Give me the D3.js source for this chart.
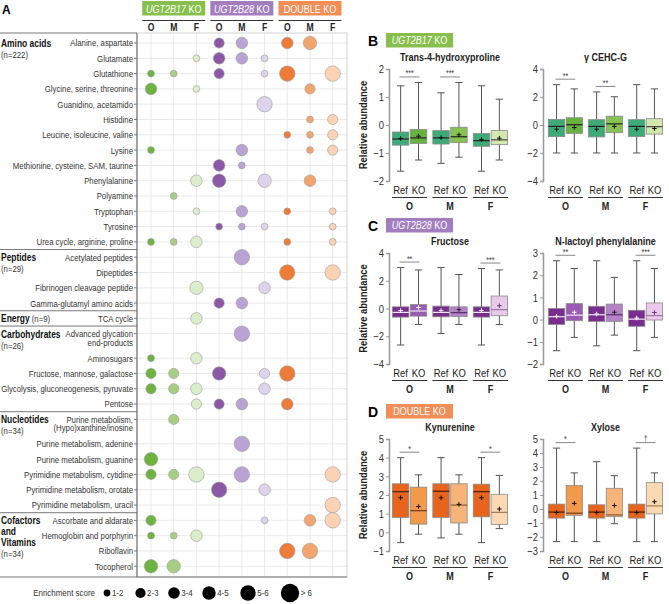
<!DOCTYPE html>
<html>
<head>
<meta charset="utf-8">
<script src="https://cdn.jsdelivr.net/npm/d3@7"></script>
<style>
  body { margin: 0; background: #fff; }
  svg { display: block; font-family: "Liberation Sans", Arial, sans-serif; }
</style>
</head>
<body>
<svg id="chart"></svg>
<script>
// ---------------- data: panel A ----------------
const pathways = [
  "Alanine, aspartate", "Glutamate", "Glutathione", "Glycine, serine, threonine",
  "Guanidino, acetamido", "Histidine", "Leucine, isoleucine, valine", "Lysine",
  "Methionine, cysteine, SAM, taurine", "Phenylalanine", "Polyamine", "Tryptophan",
  "Tyrosine", "Urea cycle, arginine, proline",
  "Acetylated peptides", "Dipeptides", "Fibrinogen cleavage peptide", "Gamma-glutamyl amino acids",
  "TCA cycle",
  "Advanced glycation|end-products", "Aminosugars", "Fructose, mannose, galactose",
  "Glycolysis, gluconeogenesis, pyruvate", "Pentose",
  "Purine metabolism,|(Hypo)xanthine/inosine", "Purine metabolism, adenine", "Purine metabolism, guanine",
  "Pyrimidine metabolism, cytidine", "Pyrimidine metabolism, orotate", "Pyrimidine metabolism, uracil",
  "Ascorbate and aldarate", "Hemoglobin and porphyrin", "Riboflavin", "Tocopherol"
];
const classNames = [["Amino acids"], ["Peptides"], ["Energy"], ["Carbohydrates"], ["Nucleotides"], ["Cofactors", "and", "Vitamins"]];
const classCounts = ["(n=222)", "(n=29)", "(n=9)", "(n=26)", "(n=34)", "(n=34)"];
const classStart = [0, 14, 18, 19, 24, 30];

const conditions = ["UGT2B17 KO", "UGT2B28 KO", "DOUBLE KO"];
const tissues = ["O", "M", "F"];

// enrichment score class per pathway (0 = not enriched, 1 = 1-2 ... 6 = >6)
// columns: B17 O,M,F | B28 O,M,F | DOUBLE O,M,F
const enrichLevel = [
  [0,0,0, 2,3,0, 3,4,0],
  [0,0,1, 3,3,1, 0,0,0],
  [1,1,0, 2,0,1, 5,0,5],
  [3,0,1, 0,0,0, 0,2,0],
  [0,0,0, 0,0,5, 0,0,0],
  [0,0,0, 0,0,0, 0,1,2],
  [0,0,0, 0,0,0, 1,1,2],
  [1,0,0, 0,3,0, 0,1,2],
  [0,0,0, 3,1,0, 0,0,0],
  [0,0,3, 4,0,4, 0,3,0],
  [0,1,0, 0,0,0, 0,0,0],
  [0,0,1, 0,3,0, 1,0,1],
  [0,0,0, 1,1,1, 0,0,1],
  [1,1,3, 0,0,0, 1,0,1],
  [0,0,0, 0,5,0, 0,0,0],
  [0,0,0, 0,0,0, 5,0,5],
  [0,0,4, 0,0,3, 0,0,0],
  [0,0,0, 2,3,0, 0,0,0],
  [0,0,3, 0,0,0, 0,0,0],
  [0,0,0, 0,5,0, 0,0,0],
  [1,0,3, 0,0,0, 0,0,0],
  [2,2,0, 4,0,2, 5,0,0],
  [2,2,3, 0,0,3, 0,0,0],
  [0,0,2, 2,3,0, 3,0,0],
  [0,2,0, 0,0,0, 0,0,0],
  [0,0,0, 0,5,0, 0,0,0],
  [4,0,0, 0,0,0, 0,0,0],
  [2,2,5, 0,5,0, 0,0,5],
  [0,0,0, 5,0,3, 0,0,0],
  [0,0,0, 0,0,0, 0,0,5],
  [2,0,0, 0,0,1, 0,3,5],
  [1,1,3, 0,0,0, 0,0,0],
  [0,0,0, 0,0,0, 5,5,0],
  [4,4,0, 0,0,0, 0,0,0]
];
const legendLabels = ["1-2", "2-3", "3-4", "4-5", "5-6", "> 6"];

// ---------------- data: box plots ----------------
// each box: [whisker low, q1, median, q3, whisker high, mean]; order O Ref, O KO, M Ref, M KO, F Ref, F KO
const hydroxyproline = [
  [-1.65,-0.72,-0.50,-0.25,1.40,-0.48], [-1.25,-0.66,-0.46,-0.16,1.52,-0.40],
  [-1.37,-0.68,-0.46,-0.20,1.15,-0.45], [-1.15,-0.63,-0.42,-0.08,1.52,-0.35],
  [-1.65,-0.76,-0.56,-0.30,1.40,-0.52], [-1.25,-0.70,-0.53,-0.20,0.92,-0.47]
];
const cehcG = [
  [-2.0,-0.83,-0.10,0.40,2.88,-0.30], [-2.0,-0.60,0.02,0.52,2.58,-0.18],
  [-2.0,-0.85,-0.10,0.38,2.36,-0.30], [-2.0,-0.55,0.08,0.63,2.02,-0.10],
  [-2.0,-0.82,-0.10,0.38,2.88,-0.30], [-2.0,-0.65,-0.12,0.45,2.58,-0.25]
];
const fructose = [
  [-2.63,-0.62,-0.28,0.12,2.95,-0.15], [-1.15,-0.55,-0.18,0.28,2.78,0.07],
  [-1.80,-0.60,-0.28,0.17,2.95,-0.15], [-1.15,-0.58,-0.30,0.12,2.45,-0.08],
  [-2.63,-0.62,-0.28,0.12,2.88,-0.15], [-1.15,-0.52,-0.08,0.90,2.78,0.20]
];
const lactoylPhe = [
  [-1.40,-0.22,0.13,0.50,2.65,0.15], [-0.80,-0.05,0.20,0.72,2.30,0.33],
  [-1.18,-0.08,0.22,0.60,2.65,0.25], [-0.70,-0.08,0.22,0.70,1.90,0.33],
  [-1.40,-0.30,0.02,0.42,2.65,0.07], [-0.80,-0.02,0.18,0.75,2.30,0.32]
];
const kynurenine = [
  [-0.55,0.80,2.18,2.60,4.00,1.85], [-0.10,0.44,1.16,2.42,3.08,1.38],
  [-0.30,0.80,2.20,2.60,4.00,1.85], [-0.10,0.50,1.46,2.60,3.08,1.50],
  [-0.55,0.83,2.18,2.58,4.00,1.85], [0.20,0.42,1.07,2.04,3.05,1.25]
];
const xylose = [
  [-2.33,-0.65,-0.22,0.35,4.35,-0.25], [-2.33,-0.45,-0.30,1.68,2.58,0.40],
  [-2.33,-0.65,-0.22,0.30,3.38,-0.25], [-1.05,-0.55,-0.42,1.48,2.38,0.25],
  [-2.33,-0.65,-0.22,0.35,4.35,-0.25], [-2.33,-0.35,0.22,1.88,2.58,0.52]
];
const sigHydroxyproline = ["***", "***", ""];
const sigCehcG = ["**", "**", ""];
const sigFructose = ["**", "", "***"];
const sigLactoylPhe = ["**", "", "***"];
const sigKynurenine = ["*", "", "*"];
const sigXylose = ["*", "", "\u2020"];

// ---------------- setup ----------------
const W = 669, H = 604;
const svg = d3.select("#chart").attr("width", W).attr("height", H);
const K = 0.82; // horizontal squeeze to mimic a narrow typeface

const headColors = ["#86bf4b", "#a27dbf", "#f28d55"];
const bubbleFill = [
  "#6cb43f", "#a7cf84", "#dcedca",
  "#8b58a8", "#b9a2d4", "#ddd3ec",
  "#ee7b38", "#f3a56f", "#fbd3b4"
];

// ---------------- panel A ----------------
const xCol = d3.scalePoint().domain(d3.range(9)).range([151, 332.7]);
const slotOf = i => i + (i > 19 ? 0.6 : 0) + (i > 24 ? 0.6 : 0);
const yRow = d3.scaleLinear().domain([0, 1]).range([43, 58.3]);
const rowY = i => yRow(slotOf(i));
const radii = [0, 3.4, 5.1, 5.8, 6.7, 7.7, 9.2];

const pA = svg.append("g");
const plotL = 137, plotR = 347, plotT = 33, plotB = 577;

pA.append("text").attr("class", "letter").attr("x", 2).attr("y", 14).text("A")
  .style("font-weight", "bold").style("font-size", "12px");

// header boxes
conditions.forEach((c, ci) => {
  const cx = xCol(ci * 3 + 1);
  pA.append("rect").attr("x", cx - 31.5).attr("y", 1).attr("width", 63).attr("height", 14.5).attr("fill", headColors[ci]);
  const t = pA.append("text").attr("x", cx).attr("y", 12.5).attr("text-anchor", "middle")
    .attr("fill", "#fff").style("font-size", "11px");
  if (ci < 2) {
    t.append("tspan").style("font-style", "italic").text(c.split(" ")[0]);
    t.append("tspan").text(" KO");
  } else {
    t.text(c);
  }
  pA.append("line").attr("x1", cx - 31.5).attr("x2", cx + 31.5).attr("y1", 20.5).attr("y2", 20.5)
    .attr("stroke", "#333").attr("stroke-width", 1);
  tissues.forEach((tt, ti) => {
    pA.append("text").attr("x", xCol(ci * 3 + ti)).attr("y", 30.5).attr("text-anchor", "middle")
      .style("font-weight", "bold").style("font-size", "10.5px").attr("fill", "#222").text(tt);
  });
});

// grid
pA.selectAll(".vg").data(d3.range(9)).enter().append("line")
  .attr("x1", d => xCol(d)).attr("x2", d => xCol(d)).attr("y1", plotT).attr("y2", plotB)
  .attr("stroke", "#e4e4e4").attr("stroke-width", 0.8);
pA.selectAll(".hg").data(pathways).enter().append("line")
  .attr("x1", plotL).attr("x2", plotR).attr("y1", (d, i) => rowY(i)).attr("y2", (d, i) => rowY(i))
  .attr("stroke", "#e4e4e4").attr("stroke-width", 0.8);
pA.append("rect").attr("x", plotL).attr("y", plotT).attr("width", plotR - plotL).attr("height", plotB - plotT)
  .attr("fill", "none").attr("stroke", "#c8c8c8").attr("stroke-width", 0.8);

// row labels + ticks
pathways.forEach((p, i) => {
  const y = rowY(i);
  pA.append("line").attr("x1", plotL - 3).attr("x2", plotL).attr("y1", y).attr("y2", y).attr("stroke", "#777");
  p.split("|").forEach((line, li) => {
    pA.append("text").attr("x", plotL - 4).attr("y", y + li * 8.6 + 3.4)
      .attr("text-anchor", "end").style("font-size", "9.5px").attr("fill", "#333").text(line);
  });
});

// class separators
pA.append("line").attr("x1", 0).attr("x2", plotL).attr("y1", plotT).attr("y2", plotT).attr("stroke", "#777");
pA.append("line").attr("x1", 0).attr("x2", plotR).attr("y1", plotB).attr("y2", plotB).attr("stroke", "#777");
pA.append("line").attr("x1", plotL).attr("x2", plotL).attr("y1", plotT).attr("y2", plotB).attr("stroke", "#777").attr("stroke-width", 1.2);
classStart.slice(1).forEach(s => {
  const y = (rowY(s - 1) + rowY(s)) / 2;
  pA.append("line").attr("x1", 0).attr("x2", plotL).attr("y1", y).attr("y2", y).attr("stroke", "#777");
});

// class labels
classNames.forEach((lines, ci) => {
  const y0 = rowY(classStart[ci]) + 3.8;
  if (lines[0] === "Energy") {
    const t = pA.append("text").attr("x", 1).attr("y", y0).attr("fill", "#111");
    t.append("tspan").style("font-weight", "bold").style("font-size", "10.3px").text("Energy");
    t.append("tspan").style("font-size", "9.5px").attr("fill", "#333").text(" " + classCounts[ci]);
    return;
  }
  lines.forEach((ln, li) => {
    pA.append("text").attr("x", 1).attr("y", y0 + li * 10.8)
      .style("font-weight", "bold").style("font-size", "10.3px").attr("fill", "#111").text(ln);
  });
  pA.append("text").attr("x", 1).attr("y", y0 + lines.length * 10.8 + 0.5)
    .style("font-size", "9.5px").attr("fill", "#333").text(classCounts[ci]);
});

// bubbles
const cells = [];
enrichLevel.forEach((row, i) => row.forEach((lv, j) => { if (lv > 0) cells.push({ i, j, lv }); }));
pA.selectAll(".bub").data(cells).enter().append("circle")
  .attr("cx", d => xCol(d.j)).attr("cy", d => rowY(d.i)).attr("r", d => radii[d.lv])
  .attr("fill", d => bubbleFill[d.j]).attr("stroke", "#9a9a9a").attr("stroke-width", 0.6);

// legend
const legX = [107, 140.5, 174, 209, 248, 290];
pA.append("text").attr("x", 95).attr("y", 596.3).attr("text-anchor", "end")
  .style("font-size", "9.7px").attr("fill", "#333").text("Enrichment score");
legendLabels.forEach((l, k) => {
  pA.append("circle").attr("cx", legX[k]).attr("cy", 593).attr("r", radii[k + 1]).attr("fill", "#000");
  pA.append("text").attr("x", legX[k] + radii[k + 1] + 1.5).attr("y", 596.3)
    .style("font-size", "9.7px").attr("fill", "#333").text(l);
});

// ---------------- box panels ----------------
const panels = [
  { letter: "B", tag: 0, top: 69, bottom: 181, boxY: 33,
    plots: [
      { title: "Trans-4-hydroxyproline", data: hydroxyproline, sig: sigHydroxyproline, dom: [-2, 2], ticks: [-2, -1, 0, 1, 2] },
      { title: "\u03b3 CEHC-G", data: cehcG, sig: sigCehcG, dom: [-4, 4], ticks: [-4, -2, 0, 2, 4] }
    ],
    fills: ["#3dab78", "#66b43e", "#3dab78", "#86c352", "#3dab78", "#d2e8ad"],
    med: ["#222", "#222", "#222", "#222", "#222", "#444"],
    mean: ["#111", "#111", "#111", "#111", "#111", "#111"] },
  { letter: "C", tag: 1, top: 253, bottom: 364, boxY: 218,
    plots: [
      { title: "Fructose", data: fructose, sig: sigFructose, dom: [-4, 4], ticks: [-4, -2, 0, 2, 4] },
      { title: "N-lactoyl phenylalanine", data: lactoylPhe, sig: sigLactoylPhe, dom: [-2, 3], ticks: [-2, -1, 0, 1, 2, 3] }
    ],
    fills: ["#7a2d8f", "#9b5bb3", "#7a2d8f", "#b482c6", "#7a2d8f", "#ebc9ea"],
    med: ["#f2e6f4", "#f2e6f4", "#f2e6f4", "#5a2a6a", "#f2e6f4", "#9c7ba8"],
    mean: ["#fff", "#fff", "#fff", "#222", "#fff", "#6a3a7a"] },
  { letter: "D", tag: 2, top: 439, bottom: 551, boxY: 404,
    plots: [
      { title: "Kynurenine", data: kynurenine, sig: sigKynurenine, dom: [-1, 5], ticks: [-1, 0, 1, 2, 3, 4, 5] },
      { title: "Xylose", data: xylose, sig: sigXylose, dom: [-3, 5], ticks: [-3, -2, -1, 0, 1, 2, 3, 4, 5] }
    ],
    fills: ["#e8631c", "#f29a4c", "#e8631c", "#f6b478", "#e8631c", "#fbd9b2"],
    med: ["#4a1e08", "#6b3a14", "#4a1e08", "#8a5a30", "#4a1e08", "#a07a55"],
    mean: ["#111", "#111", "#111", "#111", "#111", "#111"] }
];
const plotRanges = [[391, 509], [547, 664]];
const axisX = [389, 543];
const groups = ["Ref", "KO"];

panels.forEach(pn => {
  const g = svg.append("g");
  g.append("text").attr("class", "letter").attr("x", 368).attr("y", pn.boxY + 12.5).text(pn.letter)
    .style("font-weight", "bold").style("font-size", "14px");
  g.append("rect").attr("x", 386).attr("y", pn.boxY).attr("width", 67).attr("height", 14.5).attr("fill", headColors[pn.tag]);
  const lt = g.append("text").attr("x", 419.5).attr("y", pn.boxY + 11.2).attr("text-anchor", "middle")
    .attr("fill", "#fff").style("font-size", "11px");
  if (pn.tag < 2) {
    lt.append("tspan").style("font-style", "italic").text(conditions[pn.tag].split(" ")[0]);
    lt.append("tspan").text(" KO");
  } else lt.text(conditions[pn.tag]);

  const midY = (pn.top + pn.bottom) / 2;
  g.append("text").attr("x", 366.5).attr("y", midY).attr("data-rot", -90)
    .attr("text-anchor", "middle").style("font-weight", "bold").style("font-size", "11.5px").attr("fill", "#222")
    .text("Relative abundance");

  pn.plots.forEach((pl, pi) => {
    const y = d3.scaleLinear().domain(pl.dom).range([pn.bottom, pn.top]);
    const xT = d3.scaleBand().domain(tissues).range(plotRanges[pi]).paddingInner(0.08);
    const xG = d3.scaleBand().domain(groups).range([0, xT.bandwidth()]).padding(0.08);
    const ax = axisX[pi];

    g.append("text").attr("x", (plotRanges[pi][0] + plotRanges[pi][1]) / 2).attr("y", pn.top - 8)
      .attr("text-anchor", "middle").style("font-weight", "bold").style("font-size", "11px").attr("fill", "#222")
      .text(pl.title);

    const axis = g.append("g").attr("transform", `translate(${ax},0)`)
      .call(d3.axisLeft(y).tickValues(pl.ticks).tickSize(3).tickPadding(2).tickFormat(d3.format("d")));
    axis.select(".domain").attr("stroke", "#999").attr("stroke-width", 1.5);
    axis.selectAll(".tick line").attr("stroke", "#999");
    axis.selectAll(".tick text").style("font-size", "11.5px").style("font-family", "Liberation Sans, Arial").attr("fill", "#333");

    const boxes = pl.data.map((d, k) => ({
      t: tissues[Math.floor(k / 2)], grp: groups[k % 2], k,
      lo: d[0], q1: d[1], med: d[2], q3: d[3], hi: d[4], mean: d[5]
    }));
    const bw = xG.bandwidth();
    const bg = g.selectAll(null).data(boxes).enter().append("g")
      .attr("transform", d => `translate(${xT(d.t) + xG(d.grp)},0)`);
    bg.append("line").attr("x1", bw / 2).attr("x2", bw / 2).attr("y1", d => y(d.hi)).attr("y2", d => y(d.lo))
      .attr("stroke", "#555").attr("stroke-width", 1);
    bg.append("line").attr("x1", bw * 0.28).attr("x2", bw * 0.72).attr("y1", d => y(d.hi)).attr("y2", d => y(d.hi))
      .attr("stroke", "#555");
    bg.append("line").attr("x1", bw * 0.28).attr("x2", bw * 0.72).attr("y1", d => y(d.lo)).attr("y2", d => y(d.lo))
      .attr("stroke", "#555");
    bg.append("rect").attr("x", 0).attr("width", bw).attr("y", d => y(d.q3)).attr("height", d => y(d.q1) - y(d.q3))
      .attr("fill", d => pn.fills[d.k]).attr("stroke", "#8a8a8a").attr("stroke-width", 0.8);
    bg.append("line").attr("x1", 0).attr("x2", bw).attr("y1", d => y(d.med)).attr("y2", d => y(d.med))
      .attr("stroke", d => pn.med[d.k]).attr("stroke-width", 1.2);
    bg.append("path")
      .attr("d", d => `M${bw / 2 - 2.3},${y(d.mean)}H${bw / 2 + 2.3}M${bw / 2},${y(d.mean) - 2.3}V${y(d.mean) + 2.3}`)
      .attr("stroke", d => pn.mean[d.k]).attr("stroke-width", 1);

    // x labels
    tissues.forEach((t, ti) => {
      groups.forEach(gr => {
        g.append("text").attr("x", xT(t) + xG(gr) + bw / 2).attr("y", pn.bottom + 12.8)
          .attr("text-anchor", "middle").style("font-size", "11.5px").attr("fill", "#222").text(gr);
      });
      g.append("line").attr("x1", xT(t) + 1).attr("x2", xT(t) + xT.bandwidth() - 1)
        .attr("y1", pn.bottom + 16.5).attr("y2", pn.bottom + 16.5).attr("stroke", "#333");
      g.append("text").attr("x", xT(t) + xT.bandwidth() / 2).attr("y", pn.bottom + 28.5)
        .attr("text-anchor", "middle").style("font-weight", "bold").style("font-size", "11px").attr("fill", "#222").text(t);

      if (pl.sig[ti]) {
        const pairMax = Math.max(pl.data[ti * 2][4], pl.data[ti * 2 + 1][4]);
        const by = y(pairMax) - 5.5;
        const x1 = xT(t) + xG("Ref") + bw / 2, x2 = xT(t) + xG("KO") + bw / 2;
        g.append("line").attr("x1", x1 - 1).attr("x2", x2 + 1).attr("y1", by).attr("y2", by)
          .attr("stroke", "#888").attr("stroke-width", 1);
        g.append("text").attr("x", (x1 + x2) / 2).attr("y", by - 0.5).attr("text-anchor", "middle")
          .style("font-size", "8.5px").attr("fill", "#444").text(pl.sig[ti]);
      }
    });
  });
});

// squeeze every label horizontally (narrow typeface look)
svg.selectAll("text").each(function () {
  const t = d3.select(this);
  if (t.classed("letter")) return;
  if (this.parentNode.classList.contains("tick")) {
    t.attr("x", +t.attr("x") / K).attr("transform", `scale(${K},1)`);
    return;
  }
  const x = +t.attr("x") || 0, y = +t.attr("y") || 0;
  const rot = t.attr("data-rot") ? ` rotate(${t.attr("data-rot")})` : "";
  t.attr("x", 0).attr("y", 0).attr("transform", `translate(${x},${y})${rot} scale(${K},1)`);
});
</script>
</body>
</html>
